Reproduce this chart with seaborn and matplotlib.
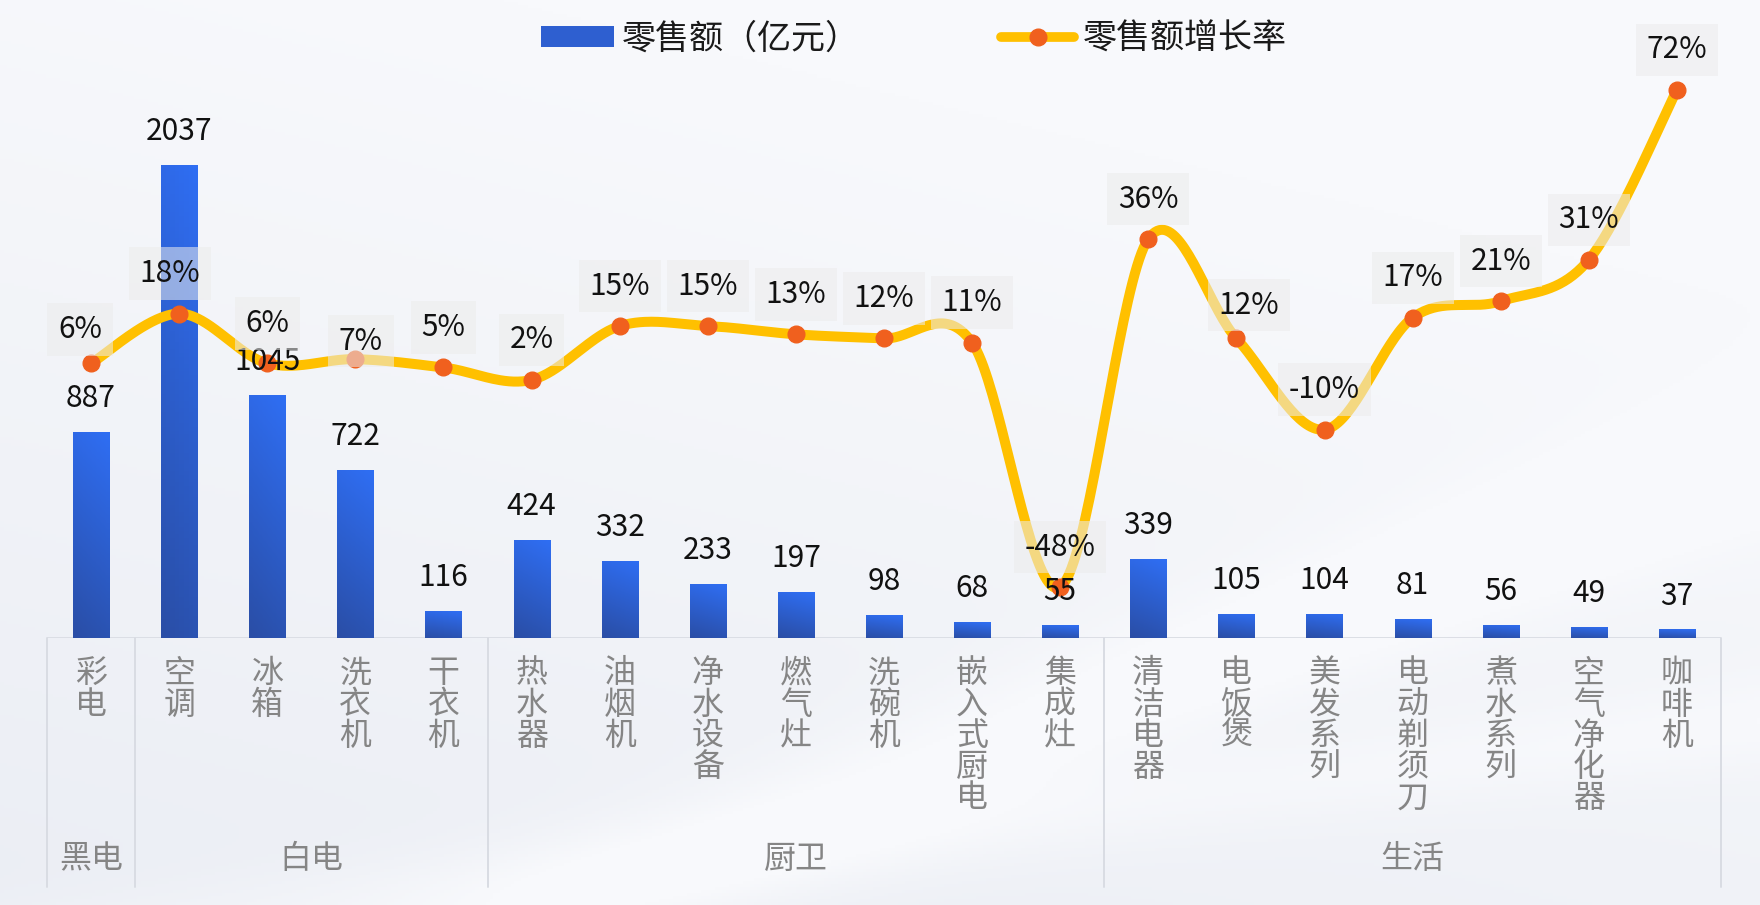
import numpy as np
import matplotlib
matplotlib.use("Agg")
import matplotlib.pyplot as plt
import matplotlib.transforms as mtrans
from matplotlib.colors import LinearSegmentedColormap, to_rgb
from matplotlib.patches import Patch
from matplotlib.lines import Line2D
import seaborn as sns

# data
categories = ['彩电', '空调', '冰箱', '洗衣机', '干衣机', '热水器', '油烟机', '净水设备',
              '燃气灶', '洗碗机', '嵌入式厨电', '集成灶', '清洁电器', '电饭煲', '美发系列',
              '电动剃须刀', '煮水系列', '空气净化器', '咖啡机']
sales = [887, 2037, 1045, 722, 116, 424, 332, 233, 197, 98, 68, 55, 339, 105, 104, 81, 56, 49, 37]
growth = [6, 18, 6, 7, 5, 2, 15, 15, 13, 12, 11, -48, 36, 12, -10, 17, 21, 31, 72]
groups = ['黑电', '白电', '厨卫', '生活']
group_sizes = [1, 4, 7, 7]

# a few growth labels were nudged by hand in the original (offsets in points)
label_nudge = {'彩电': (-8, 24.5), '空调': (-6.5, 28.8), '洗衣机': (4, 13), '电饭煲': (9, 24)}


def smooth_curve(xs, ys, steps=40):
    # Excel-style smoothed line (Catmull-Rom as cubic Bezier segments)
    P = np.column_stack([xs, ys]).astype(float)
    P = np.vstack([P[0], P, P[-1]])
    t = np.linspace(0, 1, steps)[:, None]
    segs = []
    for i in range(len(P) - 3):
        p0, p1, p2, p3 = P[i], P[i + 1], P[i + 2], P[i + 3]
        b1 = p1 + (p2 - p0) / 6
        b2 = p2 - (p3 - p1) / 6
        segs.append((1 - t) ** 3 * p1 + 3 * (1 - t) ** 2 * t * b1 + 3 * (1 - t) * t ** 2 * b2 + t ** 3 * p2)
    return np.vstack(segs)


sns.set_theme(style="white")
plt.rcParams['font.family'] = ['Noto Sans CJK SC', 'DejaVu Sans']

W, H = 1760, 905
fig = plt.figure(figsize=(W / 100, H / 100), dpi=100)

# soft background
bg = fig.add_axes([0, 0, 1, 1], zorder=-10)
yy, xx = np.mgrid[0:1:300j, 0:1:500j]
c_light = np.array(to_rgb('#f8f9fc'))
c_dark = np.array(to_rgb('#e9ecf3'))
tt = np.clip(0.75 * yy + 0.35 * (1 - xx) - 0.25, 0, 1)
band = np.exp(-((yy - (1.25 - 0.75 * xx)) / 0.08) ** 2) * 0.6
band += np.exp(-((yy - (1.05 - 0.25 * xx)) / 0.05) ** 2) * 0.35
tt = np.clip(tt - band, 0, 1)
img = c_light[None, None, :] * (1 - tt[..., None]) + c_dark[None, None, :] * tt[..., None]
bg.imshow(img, extent=[0, 1, 0, 1], aspect='auto', origin='upper')
bg.axis('off')

ax = fig.add_axes([47 / W, (H - 638) / H, 1674 / W, 638 / H])
ax.set_facecolor('none')

sns.barplot(x=categories, y=sales, color='#2e62da', width=0.41, saturation=1,
            errorbar=None, ax=ax, zorder=2)

# gradient fill for bars
bar_cmap = LinearSegmentedColormap.from_list('bars', ['#2a4ea6', '#2f6ef3'])
grad = np.linspace(0, 1, 128)[:, None] * np.ones((1, 8))
grad = grad * 0.85 + np.linspace(0, 0.15, 8)[None, :]
for p in list(ax.patches):
    x0, y0, w, h = p.get_x(), p.get_y(), p.get_width(), p.get_height()
    im = ax.imshow(grad, extent=[x0, x0 + w, y0, y0 + h], aspect='auto', origin='lower',
                   cmap=bar_cmap, vmin=0, vmax=1, zorder=2)
    im.set_clip_path(p)
    p.set_facecolor('none')
    p.set_edgecolor('none')

ax.set_xlim(-0.5, 18.5)
ax.set_ylim(0, 2747)
ax.set_yticks([])
ax.set_xlabel('')
ax.set_ylabel('')
for s in ax.spines.values():
    s.set_visible(False)
ax.axhline(0, color='#d9dce3', lw=2, zorder=1)

ax.set_xticks(range(len(categories)))
ax.set_xticklabels(['\n'.join(c) for c in categories], fontsize=23, color='#858585',
                   linespacing=0.97, fontweight='light')
ax.tick_params(axis='x', length=0, pad=14)

# group labels and separators below the axis
trans = mtrans.blended_transform_factory(ax.transData, ax.transAxes)
start = -0.5
for g, n in zip(groups, group_sizes):
    ax.plot([start, start], [0, -0.39], transform=trans, clip_on=False, color='#d9dce3', lw=1.4)
    ax.text(start + n / 2, -221 / 638, g, transform=trans, ha='center', va='center',
            fontsize=23, color='#858585', fontweight='light')
    start += n
ax.plot([start, start], [0, -0.39], transform=trans, clip_on=False, color='#d9dce3', lw=1.4)

# growth line on a secondary axis
ax2 = ax.twinx()
ax2.set_ylim(-60.3, 93.7)
ax2.axis('off')
curve = smooth_curve(np.arange(len(growth)), growth)
ax2.plot(curve[:, 0], curve[:, 1], color='#ffc000', lw=7.2, solid_capstyle='round', zorder=3)
ax2.plot(np.arange(len(growth)), growth, 'o', ms=12, color='#f0601e', zorder=4)

for i, v in enumerate(sales):
    ax2.annotate(f'{v}', xy=(i, v), xycoords=ax.transData, xytext=(0, 24),
                 textcoords='offset points', ha='center', va='center',
                 fontsize=21.5, color='#111111', zorder=6)

for i, (c, g) in enumerate(zip(categories, growth)):
    dx, dy = label_nudge.get(c, (0, 28.8))
    ax2.annotate(f'{g}%', xy=(i, g), xytext=(dx, dy), textcoords='offset points',
                 ha='center', va='center', fontsize=21.5, color='#111111', zorder=7,
                 bbox=dict(boxstyle='square,pad=0.36', fc='#ececec', ec='none', alpha=0.55))

handles = [Patch(facecolor='#2e5fd0', edgecolor='none'),
           Line2D([], [], color='#ffc000', lw=7, marker='o', ms=12,
                  mfc='#f0601e', mec='#f0601e', solid_capstyle='round')]
fig.legend(handles, ['零售额（亿元）', '零售额增长率'], ncol=2, loc='center',
           bbox_to_anchor=(0.519, 0.957), frameon=False, fontsize=24.5,
           handlelength=2.15, handleheight=0.6, columnspacing=4.15, handletextpad=0.24,
           labelcolor='#1a1a1a')

fig.savefig('out.png', dpi=100)
